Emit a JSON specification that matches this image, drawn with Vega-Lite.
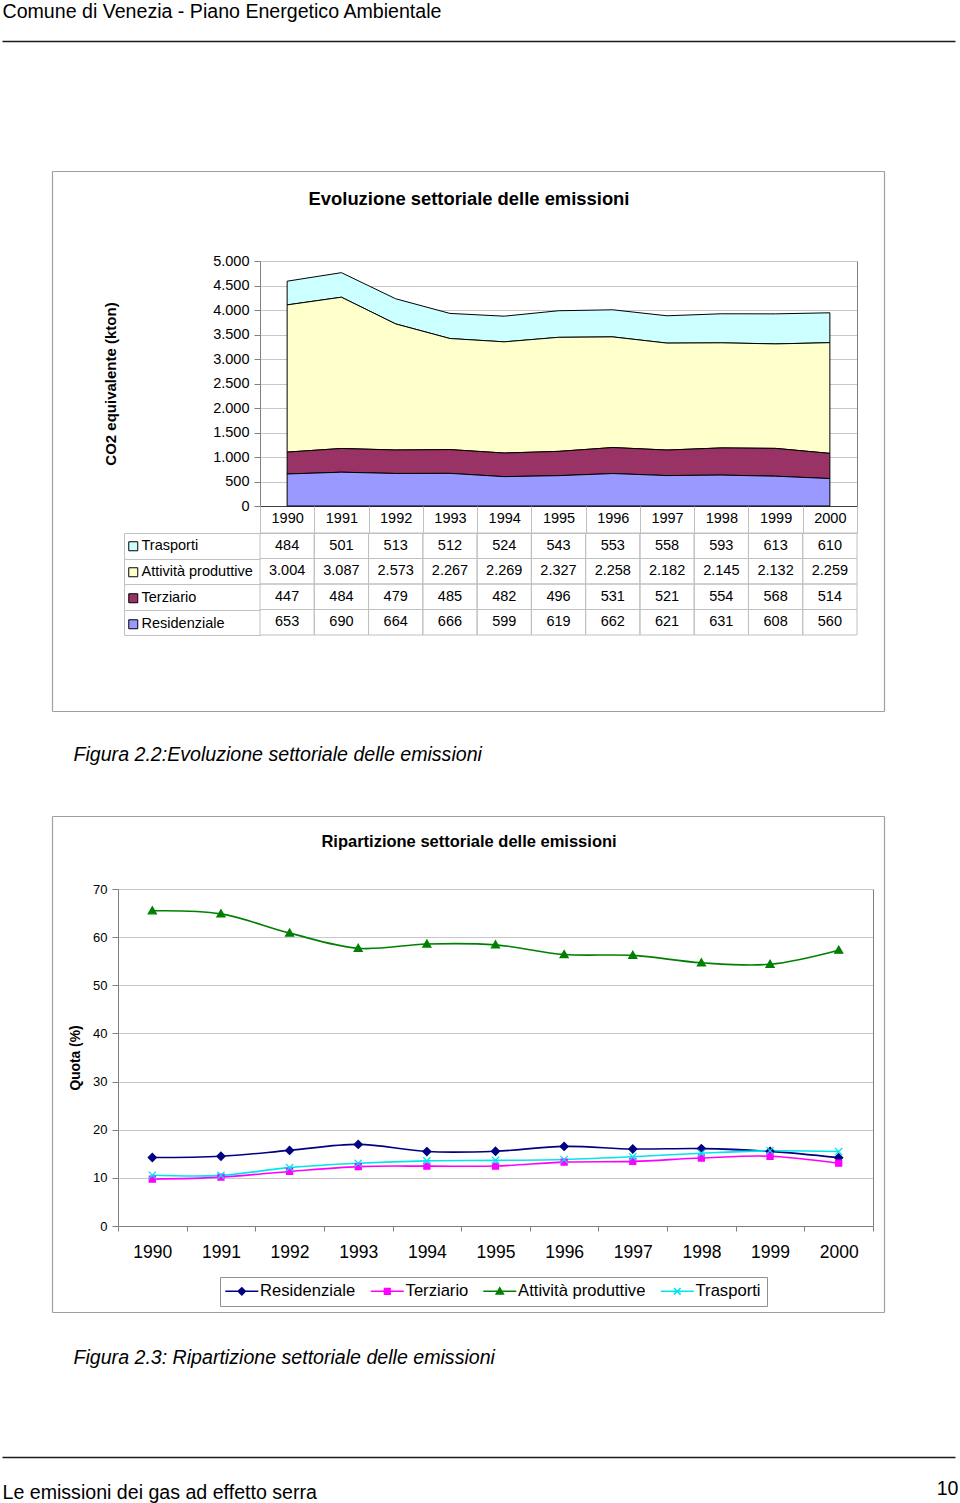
{
  "$schema": "https://vega.github.io/schema/vega-lite/v6.json",
  "width": 960,
  "height": 1503,
  "autosize": "none",
  "padding": 0,
  "background": "#ffffff",
  "config": {
    "font": "Liberation Sans",
    "view": {"stroke": null},
    "locale": {"number": {"decimal": ",", "thousands": ".", "grouping": [3], "currency": ["€", ""]}},
    "axis": {"labelColor": "#000000", "titleColor": "#000000", "labelFont": "Liberation Sans", "titleFont": "Liberation Sans"},
    "legend": {"labelColor": "#000000", "labelFont": "Liberation Sans"}
  },
  "datasets": {
    "emis": [
      {"year": "1990", "s": "Trasporti", "v": 484}, {"year": "1991", "s": "Trasporti", "v": 501}, {"year": "1992", "s": "Trasporti", "v": 513}, {"year": "1993", "s": "Trasporti", "v": 512}, {"year": "1994", "s": "Trasporti", "v": 524}, {"year": "1995", "s": "Trasporti", "v": 543}, {"year": "1996", "s": "Trasporti", "v": 553}, {"year": "1997", "s": "Trasporti", "v": 558}, {"year": "1998", "s": "Trasporti", "v": 593}, {"year": "1999", "s": "Trasporti", "v": 613}, {"year": "2000", "s": "Trasporti", "v": 610},
      {"year": "1990", "s": "Attività produttive", "v": 3004}, {"year": "1991", "s": "Attività produttive", "v": 3087}, {"year": "1992", "s": "Attività produttive", "v": 2573}, {"year": "1993", "s": "Attività produttive", "v": 2267}, {"year": "1994", "s": "Attività produttive", "v": 2269}, {"year": "1995", "s": "Attività produttive", "v": 2327}, {"year": "1996", "s": "Attività produttive", "v": 2258}, {"year": "1997", "s": "Attività produttive", "v": 2182}, {"year": "1998", "s": "Attività produttive", "v": 2145}, {"year": "1999", "s": "Attività produttive", "v": 2132}, {"year": "2000", "s": "Attività produttive", "v": 2259},
      {"year": "1990", "s": "Terziario", "v": 447}, {"year": "1991", "s": "Terziario", "v": 484}, {"year": "1992", "s": "Terziario", "v": 479}, {"year": "1993", "s": "Terziario", "v": 485}, {"year": "1994", "s": "Terziario", "v": 482}, {"year": "1995", "s": "Terziario", "v": 496}, {"year": "1996", "s": "Terziario", "v": 531}, {"year": "1997", "s": "Terziario", "v": 521}, {"year": "1998", "s": "Terziario", "v": 554}, {"year": "1999", "s": "Terziario", "v": 568}, {"year": "2000", "s": "Terziario", "v": 514},
      {"year": "1990", "s": "Residenziale", "v": 653}, {"year": "1991", "s": "Residenziale", "v": 690}, {"year": "1992", "s": "Residenziale", "v": 664}, {"year": "1993", "s": "Residenziale", "v": 666}, {"year": "1994", "s": "Residenziale", "v": 599}, {"year": "1995", "s": "Residenziale", "v": 619}, {"year": "1996", "s": "Residenziale", "v": 662}, {"year": "1997", "s": "Residenziale", "v": 621}, {"year": "1998", "s": "Residenziale", "v": 631}, {"year": "1999", "s": "Residenziale", "v": 608}, {"year": "2000", "s": "Residenziale", "v": 560}
    ],
    "share": [
      {"year": "1990", "s": "Residenziale", "p": 14.23}, {"year": "1991", "s": "Residenziale", "p": 14.49}, {"year": "1992", "s": "Residenziale", "p": 15.70}, {"year": "1993", "s": "Residenziale", "p": 16.95}, {"year": "1994", "s": "Residenziale", "p": 15.46}, {"year": "1995", "s": "Residenziale", "p": 15.53}, {"year": "1996", "s": "Residenziale", "p": 16.53}, {"year": "1997", "s": "Residenziale", "p": 16.00}, {"year": "1998", "s": "Residenziale", "p": 16.08}, {"year": "1999", "s": "Residenziale", "p": 15.51}, {"year": "2000", "s": "Residenziale", "p": 14.20},
      {"year": "1990", "s": "Terziario", "p": 9.74}, {"year": "1991", "s": "Terziario", "p": 10.16}, {"year": "1992", "s": "Terziario", "p": 11.33}, {"year": "1993", "s": "Terziario", "p": 12.34}, {"year": "1994", "s": "Terziario", "p": 12.44}, {"year": "1995", "s": "Terziario", "p": 12.45}, {"year": "1996", "s": "Terziario", "p": 13.26}, {"year": "1997", "s": "Terziario", "p": 13.42}, {"year": "1998", "s": "Terziario", "p": 14.12}, {"year": "1999", "s": "Terziario", "p": 14.49}, {"year": "2000", "s": "Terziario", "p": 13.04},
      {"year": "1990", "s": "Attività produttive", "p": 65.47}, {"year": "1991", "s": "Attività produttive", "p": 64.83}, {"year": "1992", "s": "Attività produttive", "p": 60.84}, {"year": "1993", "s": "Attività produttive", "p": 57.68}, {"year": "1994", "s": "Attività produttive", "p": 58.57}, {"year": "1995", "s": "Attività produttive", "p": 58.39}, {"year": "1996", "s": "Attività produttive", "p": 56.39}, {"year": "1997", "s": "Attività produttive", "p": 56.21}, {"year": "1998", "s": "Attività produttive", "p": 54.68}, {"year": "1999", "s": "Attività produttive", "p": 54.37}, {"year": "2000", "s": "Attività produttive", "p": 57.29},
      {"year": "1990", "s": "Trasporti", "p": 10.55}, {"year": "1991", "s": "Trasporti", "p": 10.52}, {"year": "1992", "s": "Trasporti", "p": 12.13}, {"year": "1993", "s": "Trasporti", "p": 13.03}, {"year": "1994", "s": "Trasporti", "p": 13.53}, {"year": "1995", "s": "Trasporti", "p": 13.63}, {"year": "1996", "s": "Trasporti", "p": 13.81}, {"year": "1997", "s": "Trasporti", "p": 14.37}, {"year": "1998", "s": "Trasporti", "p": 15.12}, {"year": "1999", "s": "Trasporti", "p": 15.63}, {"year": "2000", "s": "Trasporti", "p": 15.47}
    ]
  },
  "layer": [
    {
      "data": {"values": []},
      "mark": {"type": "point"},
      "encoding": {
        "x": {"field": "a", "type": "quantitative", "scale": {"domain": [0, 1], "range": [2, 955]},
          "axis": {"orient": "top", "offset": -41, "domain": true, "domainColor": "#1a1a1a", "domainWidth": 1.6, "ticks": false, "labels": false, "grid": false,
            "title": "Comune di Venezia - Piano Energetico Ambientale", "titleFontSize": 19.6, "titleFontWeight": "normal", "titleAngle": 0, "titleAlign": "left", "titleBaseline": "alphabetic", "titleX": 2, "titleY": -24}},
        "y": {"field": "b", "type": "quantitative", "scale": {"domain": [0, 1], "range": [41, 0]}, "axis": null}
      }
    },
    {
      "data": {"values": []},
      "mark": {"type": "point"},
      "encoding": {
        "x": {"field": "a", "type": "quantitative", "scale": {"domain": [0, 1], "range": [2, 955]},
          "axis": {"orient": "bottom", "offset": -46, "domain": true, "domainColor": "#1a1a1a", "domainWidth": 1.6, "ticks": false, "labels": false, "grid": false,
            "title": "Le emissioni dei gas ad effetto serra", "titleFontSize": 19.6, "titleFontWeight": "normal", "titleAngle": 0, "titleAlign": "left", "titleBaseline": "alphabetic", "titleX": 2, "titleY": 41}},
        "y": {"field": "b", "type": "quantitative", "scale": {"domain": [0, 1], "range": [1503, 1457]},
          "axis": {"orient": "right", "offset": -2, "domain": false, "ticks": false, "labels": false, "grid": false,
            "title": "10", "titleFontSize": 19.6, "titleFontWeight": "normal", "titleAngle": 0, "titleAlign": "right", "titleBaseline": "alphabetic", "titleX": 0, "titleY": 1494}}
      }
    },
    {
      "data": {"values": []},
      "mark": {"type": "point"},
      "encoding": {
        "x": {"field": "a", "type": "quantitative", "scale": {"domain": [0, 1], "range": [52, 884]},
          "axis": {"orient": "top", "offset": -171, "domain": true, "domainColor": "#a0a0a0", "domainWidth": 1.2, "ticks": false, "labels": false, "grid": false,
            "title": "Evoluzione settoriale delle emissioni", "titleFontSize": 18.4, "titleFontWeight": "bold", "titleAngle": 0, "titleAlign": "center", "titleBaseline": "middle", "titleX": 468.5, "titleY": 27}},
        "y": {"field": "b", "type": "quantitative", "scale": {"domain": [0, 1], "range": [711, 171]},
          "axis": {"orient": "left", "offset": -52, "domain": true, "domainColor": "#a0a0a0", "domainWidth": 1.2, "ticks": false, "labels": false, "grid": false, "title": null}}
      }
    },
    {
      "data": {"values": []},
      "mark": {"type": "point"},
      "encoding": {
        "x": {"field": "a", "type": "quantitative", "scale": {"domain": [0, 1], "range": [52, 884]},
          "axis": {"orient": "bottom", "offset": -792, "domain": true, "domainColor": "#a0a0a0", "domainWidth": 1.2, "ticks": false, "labels": false, "grid": false,
            "title": "Figura 2.2:Evoluzione settoriale delle emissioni", "titleFontSize": 19.6, "titleFontWeight": "normal", "titleFontStyle": "italic", "titleAngle": 0, "titleAlign": "left", "titleBaseline": "middle", "titleX": 73, "titleY": 43}},
        "y": {"field": "b", "type": "quantitative", "scale": {"domain": [0, 1], "range": [711, 171]},
          "axis": {"orient": "right", "offset": -76, "domain": true, "domainColor": "#a0a0a0", "domainWidth": 1.2, "ticks": false, "labels": false, "grid": false, "title": null}}
      }
    },
    {
      "data": {"values": []},
      "mark": {"type": "point"},
      "encoding": {
        "x": {"field": "a", "type": "quantitative", "scale": {"domain": [0, 1], "range": [52, 884]},
          "axis": {"orient": "top", "offset": -816, "domain": true, "domainColor": "#a0a0a0", "domainWidth": 1.2, "ticks": false, "labels": false, "grid": false,
            "title": "Ripartizione settoriale delle emissioni", "titleFontSize": 16.5, "titleFontWeight": "bold", "titleAngle": 0, "titleAlign": "center", "titleBaseline": "middle", "titleX": 468.5, "titleY": 25}},
        "y": {"field": "b", "type": "quantitative", "scale": {"domain": [0, 1], "range": [1312, 816]},
          "axis": {"orient": "left", "offset": -52, "domain": true, "domainColor": "#a0a0a0", "domainWidth": 1.2, "ticks": false, "labels": false, "grid": false, "title": null}}
      }
    },
    {
      "data": {"values": []},
      "mark": {"type": "point"},
      "encoding": {
        "x": {"field": "a", "type": "quantitative", "scale": {"domain": [0, 1], "range": [52, 884]},
          "axis": {"orient": "bottom", "offset": -191, "domain": true, "domainColor": "#a0a0a0", "domainWidth": 1.2, "ticks": false, "labels": false, "grid": false,
            "title": "Figura 2.3: Ripartizione settoriale delle emissioni", "titleFontSize": 19.6, "titleFontWeight": "normal", "titleFontStyle": "italic", "titleAngle": 0, "titleAlign": "left", "titleBaseline": "middle", "titleX": 73, "titleY": 45}},
        "y": {"field": "b", "type": "quantitative", "scale": {"domain": [0, 1], "range": [1312, 816]},
          "axis": {"orient": "right", "offset": -76, "domain": true, "domainColor": "#a0a0a0", "domainWidth": 1.2, "ticks": false, "labels": false, "grid": false, "title": null}}
      }
    },
    {
      "data": {"name": "emis"},
      "transform": [{"calculate": "indexof(['Residenziale','Terziario','Attività produttive','Trasporti'], datum.s)", "as": "o"}],
      "mark": {"type": "area", "stroke": "#000000", "strokeWidth": 1, "opacity": 1},
      "encoding": {
        "x": {"field": "year", "type": "ordinal",
          "scale": {"type": "point", "domain": ["1990", "1991", "1992", "1993", "1994", "1995", "1996", "1997", "1998", "1999", "2000"], "range": [260, 857], "padding": 0.5},
          "axis": {"orient": "bottom", "offset": -997, "ticks": false, "tickSize": 0, "domain": true, "domainColor": "#404040", "labelFontSize": 14.5, "labelPadding": 5, "labelAngle": 0, "title": null, "grid": false}},
        "y": {"field": "v", "type": "quantitative", "stack": "zero",
          "scale": {"domain": [0, 5000], "range": [506, 261], "nice": false},
          "axis": {"orient": "left", "offset": -260, "values": [0, 500, 1000, 1500, 2000, 2500, 3000, 3500, 4000, 4500, 5000], "format": ",.0f",
            "labelFontSize": 14.5, "tickSize": 6, "tickColor": "#808080", "labelPadding": 5, "domainColor": "#808080", "grid": true, "gridColor": "#c8c8c8",
            "title": "CO2 equivalente (kton)", "titleFontSize": 15, "titleFontWeight": "bold", "titleAngle": -90, "titleX": -150, "titleY": 383.5, "titleAlign": "center", "titleBaseline": "middle"}},
        "fill": {"field": "s", "type": "nominal",
          "scale": {"domain": ["Trasporti", "Attività produttive", "Terziario", "Residenziale"], "range": ["#CCFFFF", "#FFFFCC", "#993366", "#9999FF"]},
          "legend": {"orient": "none", "legendX": 126, "legendY": 539, "direction": "vertical", "title": null, "symbolType": "square", "symbolSize": 81,
            "symbolStrokeColor": "#000000", "symbolStrokeWidth": 1, "symbolOpacity": 1, "labelFontSize": 14.5, "labelOffset": 1, "rowPadding": 11, "padding": 0}},
        "order": {"field": "o", "type": "quantitative"}
      }
    },
    {
      "data": {"values": []},
      "mark": {"type": "point"},
      "encoding": {
        "x": {"field": "a", "type": "quantitative", "scale": {"domain": [0, 1], "range": [260, 857]}, "axis": null},
        "y": {"field": "b", "type": "quantitative", "scale": {"domain": [0, 1], "range": [506, 261]},
          "axis": {"orient": "right", "offset": -103, "domain": true, "domainColor": "#808080", "ticks": false, "labels": false, "grid": false, "title": null}}
      }
    },
    {
      "data": {"name": "emis"},
      "mark": {"type": "rect", "filled": false, "stroke": "#c0c0c0", "strokeWidth": 1},
      "encoding": {
        "x": {"field": "year", "type": "ordinal",
          "scale": {"type": "band", "domain": ["1990", "1991", "1992", "1993", "1994", "1995", "1996", "1997", "1998", "1999", "2000"], "range": [260, 857], "paddingInner": 0, "paddingOuter": 0},
          "axis": {"orient": "top", "offset": -533, "tickBand": "extent", "tickSize": 27, "tickColor": "#c0c0c0", "domain": true, "domainColor": "#c0c0c0", "labels": false, "grid": false, "title": null}},
        "y": {"field": "s", "type": "nominal",
          "scale": {"type": "band", "domain": ["Trasporti", "Attività produttive", "Terziario", "Residenziale"], "range": [533, 635], "paddingInner": 0, "paddingOuter": 0},
          "axis": {"orient": "left", "offset": -124, "tickBand": "extent", "tickSize": -136, "tickColor": "#c0c0c0", "domain": true, "domainColor": "#c0c0c0", "labels": false, "grid": false, "title": null}}
      }
    },
    {
      "data": {"name": "emis"},
      "mark": {"type": "text", "fontSize": 14.5, "color": "#000000", "baseline": "middle", "align": "center"},
      "encoding": {
        "x": {"field": "year", "type": "ordinal",
          "scale": {"type": "point", "domain": ["1990", "1991", "1992", "1993", "1994", "1995", "1996", "1997", "1998", "1999", "2000"], "range": [260, 857], "padding": 0.5}, "axis": null},
        "y": {"field": "s", "type": "nominal",
          "scale": {"type": "point", "domain": ["Trasporti", "Attività produttive", "Terziario", "Residenziale"], "range": [533, 635], "padding": 0.5}, "axis": null},
        "text": {"field": "v", "type": "quantitative", "format": ",.0f"}
      }
    },
    {
      "data": {"name": "share"},
      "mark": {"type": "line", "interpolate": "catmull-rom", "strokeWidth": 1.6},
      "encoding": {
        "x": {"field": "year", "type": "ordinal", "bandPosition": 0.5,
          "scale": {"type": "band", "domain": ["1990", "1991", "1992", "1993", "1994", "1995", "1996", "1997", "1998", "1999", "2000"], "range": [118, 873], "paddingInner": 0, "paddingOuter": 0},
          "axis": {"orient": "bottom", "offset": -277, "tickBand": "extent", "tickSize": 5, "tickColor": "#808080", "domainColor": "#808080", "labelFontSize": 17.5, "labelPadding": 12, "labelAngle": 0, "title": null, "grid": false}},
        "y": {"field": "p", "type": "quantitative",
          "scale": {"domain": [0, 70], "range": [1226, 889], "nice": false},
          "axis": {"orient": "left", "offset": -118, "values": [0, 10, 20, 30, 40, 50, 60, 70], "tickSize": 6, "tickColor": "#808080", "domainColor": "#808080",
            "labelFontSize": 13, "labelPadding": 5, "grid": true, "gridColor": "#c8c8c8",
            "title": "Quota (%)", "titleFontSize": 13.8, "titleFontWeight": "bold", "titleAngle": -90, "titleX": -43, "titleY": 1057.5, "titleAlign": "center", "titleBaseline": "middle"}},
        "color": {"field": "s", "type": "nominal",
          "scale": {"domain": ["Residenziale", "Terziario", "Attività produttive", "Trasporti"], "range": ["#000080", "#FF00FF", "#008000", "#00E5EE"]}, "legend": null}
      }
    },
    {
      "data": {"name": "share"},
      "mark": {"type": "point", "filled": true, "size": 64, "strokeWidth": 1.3, "opacity": 1},
      "encoding": {
        "x": {"field": "year", "type": "ordinal", "bandPosition": 0.5,
          "scale": {"type": "band", "domain": ["1990", "1991", "1992", "1993", "1994", "1995", "1996", "1997", "1998", "1999", "2000"], "range": [118, 873], "paddingInner": 0, "paddingOuter": 0}, "axis": null},
        "y": {"field": "p", "type": "quantitative",
          "scale": {"domain": [0, 70], "range": [1226, 889], "nice": false},
          "axis": {"orient": "right", "offset": -87, "domain": true, "domainColor": "#808080", "ticks": false, "labels": false, "grid": false, "title": null}},
        "fill": {"field": "s", "type": "nominal",
          "scale": {"domain": ["Residenziale", "Terziario", "Attività produttive", "Trasporti"], "range": ["#000080", "#FF00FF", "#008000", "#00E5EE"]}, "legend": null},
        "stroke": {"field": "s", "type": "nominal",
          "scale": {"domain": ["Residenziale", "Terziario", "Attività produttive", "Trasporti"], "range": ["#000080", "#FF00FF", "#008000", "#00E5EE"]}, "legend": null},
        "shape": {"field": "s", "type": "nominal",
          "scale": {"domain": ["Residenziale", "Terziario", "Attività produttive", "Trasporti"],
            "range": ["M0,-1L1,0L0,1L-1,0Z", "M-0.75,-0.75H0.75V0.75H-0.75Z", "M0,-1L1,0.75H-1Z", "M-0.9,-0.9L0.9,0.9M-0.9,0.9L0.9,-0.9"]}, "legend": null}
      }
    },
    {
      "data": {"values": []},
      "mark": {"type": "point", "filled": true, "opacity": 1, "strokeWidth": 1.5},
      "encoding": {
        "fill": {"field": "s", "type": "nominal",
          "scale": {"domain": ["Residenziale", "Terziario", "Attività produttive", "Trasporti"], "range": ["#000080", "#FF00FF", "#008000", "#00E5EE"]},
          "legend": {"orient": "none", "legendX": 220, "legendY": 1277, "direction": "horizontal", "title": null, "padding": 6, "strokeColor": "#909090", "fillColor": "#ffffff",
            "symbolSize": 144, "symbolOffset": 7.5, "symbolStrokeWidth": 1.5, "symbolOpacity": 1, "labelFontSize": 16.6, "labelOffset": 10, "columnPadding": 11.5}},
        "stroke": {"field": "s", "type": "nominal",
          "scale": {"domain": ["Residenziale", "Terziario", "Attività produttive", "Trasporti"], "range": ["#000080", "#FF00FF", "#008000", "#00E5EE"]},
          "legend": {"orient": "none", "legendX": 220, "legendY": 1277, "direction": "horizontal", "title": null, "padding": 6, "strokeColor": "#909090", "fillColor": "#ffffff",
            "symbolSize": 144, "symbolOffset": 7.5, "symbolStrokeWidth": 1.5, "symbolOpacity": 1, "labelFontSize": 16.6, "labelOffset": 10, "columnPadding": 11.5}},
        "shape": {"field": "s", "type": "nominal",
          "scale": {"domain": ["Residenziale", "Terziario", "Attività produttive", "Trasporti"],
            "range": ["M-2.75,0H2.75M0,-0.6L0.6,0L0,0.6L-0.6,0Z", "M-2.75,0H2.75M-0.47,-0.47H0.47V0.47H-0.47Z", "M-2.75,0H2.75M0,-0.6L0.6,0.45H-0.6Z", "M-2.75,0H2.75M-0.55,-0.55L0.55,0.55M-0.55,0.55L0.55,-0.55"]},
          "legend": {"orient": "none", "legendX": 220, "legendY": 1277, "direction": "horizontal", "title": null, "padding": 6, "strokeColor": "#909090", "fillColor": "#ffffff",
            "symbolSize": 144, "symbolOffset": 7.5, "symbolStrokeWidth": 1.5, "symbolOpacity": 1, "labelFontSize": 16.6, "labelOffset": 10, "columnPadding": 11.5}}
      }
    }
  ],
  "resolve": {"scale": {"x": "independent", "y": "independent", "fill": "independent", "stroke": "independent", "shape": "independent", "color": "independent"}}
}
